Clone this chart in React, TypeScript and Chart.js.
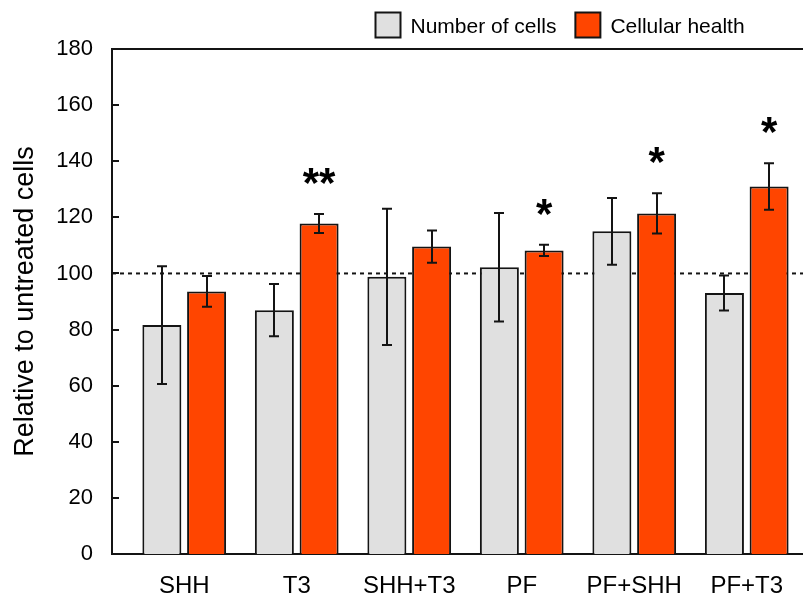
import React, { useEffect, useRef } from 'react';
import { Chart, registerables } from 'chart.js';

Chart.register(...registerables);

const categories = ['SHH', 'T3', 'SHH+T3', 'PF', 'PF+SHH', 'PF+T3'];
const seriesLabels = ['Number of cells', 'Cellular health'];
const cellCount = [81.6, 86.9, 98.8, 102.2, 115.0, 93.0];
const cellCountErr = [21.0, 9.3, 24.3, 19.35, 11.9, 6.25];
const cellHealth = [93.6, 117.8, 109.6, 108.2, 121.4, 131.0];
const cellHealthErr = [5.5, 3.4, 5.75, 2.0, 7.2, 8.3];
const healthSignificance = ['', '**', '', '*', '*', '*'];
const yMin = 0;
const yMax = 180;
const yStep = 20;
const referenceLine = 100;

const FONT = "'Liberation Sans', Arial, Helvetica, sans-serif";
const GRAY = '#e0e0e0';
const ORANGE = '#ff4500';
const INK = '#141414';

const seriesValues = [cellCount, cellHealth];
const seriesErrors = [cellCountErr, cellHealthErr];
const seriesColors = [GRAY, ORANGE];

const decorPlugin = {
  id: 'decor',
  beforeDatasetsDraw(chart: any) {
    const { ctx, chartArea } = chart;
    const y = chart.scales.y;
    const py = y.getPixelForValue(referenceLine);
    ctx.save();
    ctx.setLineDash([4, 4]);
    ctx.lineWidth = 2;
    ctx.strokeStyle = INK;
    ctx.beginPath();
    ctx.moveTo(chartArea.left, py);
    ctx.lineTo(chartArea.right, py);
    ctx.stroke();
    ctx.restore();
  },
  afterDatasetsDraw(chart: any) {
    const { ctx } = chart;
    const y = chart.scales.y;
    ctx.save();
    ctx.strokeStyle = INK;
    ctx.lineWidth = 2;
    seriesValues.forEach((vals, di) => {
      const meta = chart.getDatasetMeta(di);
      meta.data.forEach((el: any, j: number) => {
        const v = vals[j];
        const e = seriesErrors[di][j];
        const x = Math.round(el.x);
        const top = y.getPixelForValue(v + e);
        const bot = y.getPixelForValue(v - e);
        ctx.beginPath();
        ctx.moveTo(x, top);
        ctx.lineTo(x, bot);
        ctx.moveTo(x - 5, top);
        ctx.lineTo(x + 5, top);
        ctx.moveTo(x - 5, bot);
        ctx.lineTo(x + 5, bot);
        ctx.stroke();
      });
    });
    // significance marks
    const meta = chart.getDatasetMeta(1);
    ctx.fillStyle = '#000';
    ctx.font = `bold 42px ${FONT}`;
    ctx.textAlign = 'center';
    ctx.textBaseline = 'alphabetic';
    meta.data.forEach((el: any, j: number) => {
      const mark = healthSignificance[j];
      if (!mark) return;
      const top = y.getPixelForValue(cellHealth[j] + cellHealthErr[j]);
      ctx.fillText(mark, el.x, top - 17);
    });
    ctx.restore();
  },
  afterDraw(chart: any) {
    const { ctx, chartArea } = chart;
    const y = chart.scales.y;
    ctx.save();
    ctx.strokeStyle = INK;
    ctx.lineWidth = 2;
    // top frame line
    ctx.beginPath();
    ctx.moveTo(chartArea.left - 1, chartArea.top);
    ctx.lineTo(chartArea.right, chartArea.top);
    ctx.stroke();
    // inner y ticks
    for (let v = yMin; v <= yMax; v += yStep) {
      const py = Math.round(y.getPixelForValue(v));
      ctx.beginPath();
      ctx.moveTo(chartArea.left, py);
      ctx.lineTo(chartArea.left + 7, py);
      ctx.stroke();
    }
    // legend
    ctx.font = `21px ${FONT}`;
    ctx.textAlign = 'left';
    ctx.textBaseline = 'alphabetic';
    let x = 375.5;
    const boxTop = 12.5;
    const box = 25;
    seriesLabels.forEach((label, i) => {
      ctx.fillStyle = seriesColors[i];
      ctx.fillRect(x, boxTop, box, box);
      ctx.strokeStyle = INK;
      ctx.lineWidth = 2;
      ctx.strokeRect(x, boxTop, box, box);
      ctx.fillStyle = '#000';
      ctx.fillText(label, x + box + 10, 33);
      x += box + 10 + ctx.measureText(label).width + 19;
    });
    ctx.restore();
  },
};

export default function App() {
  const ref = useRef<HTMLCanvasElement | null>(null);

  useEffect(() => {
    if (!ref.current) return;
    const chart = new Chart(ref.current, {
      type: 'bar',
      data: {
        datasets: seriesLabels.map((label, di) => ({
          label,
          data: seriesValues[di].map((v, i) => ({ x: i, y: v })),
          backgroundColor: seriesColors[di],
          borderColor: INK,
          borderWidth: 2,
          categoryPercentage: 0.795,
          barPercentage: 0.872,
        })),
      },
      options: {
        animation: false,
        responsive: true,
        maintainAspectRatio: false,
        layout: { padding: { top: 49, left: 0, right: 0, bottom: 0 } },
        plugins: { legend: { display: false }, tooltip: { enabled: false } },
        scales: {
          x: {
            type: 'linear',
            min: -0.642,
            max: 5.5,
            offset: false,
            grid: { display: false, drawTicks: false, offset: false },
            border: { display: true, color: INK, width: 2 },
            afterBuildTicks: (axis: any) => {
              axis.ticks = categories.map((_, i) => ({ value: i }));
            },
            afterFit: (axis: any) => {
              axis.height = 41;
            },
            ticks: {
              autoSkip: false,
              maxRotation: 0,
              padding: 18,
              color: '#000',
              font: { family: FONT, size: 24 },
              callback: (v: any) => categories[v as number] ?? '',
            },
          },
          y: {
            min: yMin,
            max: yMax,
            grid: { display: false, drawTicks: false },
            border: { display: true, color: INK, width: 2 },
            ticks: {
              stepSize: yStep,
              padding: 19,
              color: '#000',
              font: { family: FONT, size: 22 },
            },
            title: {
              display: true,
              text: 'Relative to untreated cells',
              color: '#000',
              font: { family: FONT, size: 27 },
              padding: { top: 9, bottom: 0 },
            },
            afterFit: (axis: any) => {
              axis.width = 112;
            },
          },
        },
      } as any,
      plugins: [decorPlugin],
    });
    return () => chart.destroy();
  }, []);

  return (
    <div style={{ position: 'fixed', left: 0, top: 0, width: 803, height: 595, background: '#fff' }}>
      <canvas ref={ref} />
    </div>
  );
}
